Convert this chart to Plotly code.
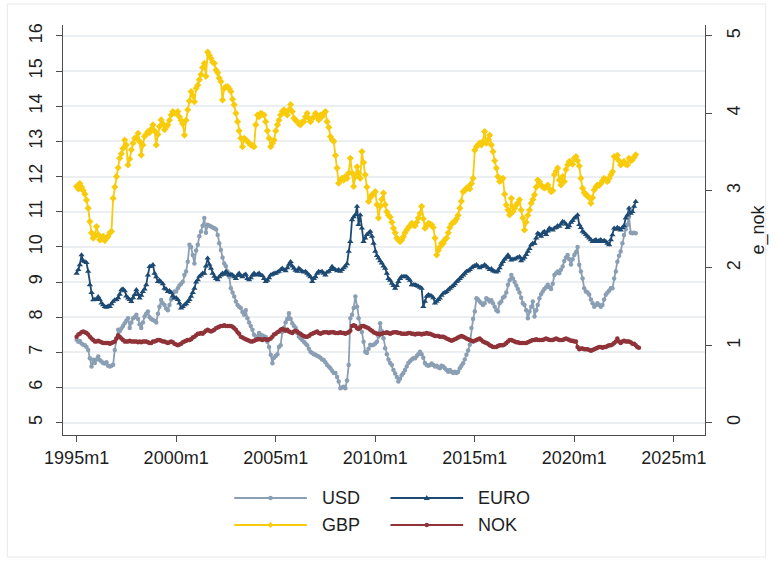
import pandas as pd
import plotly.graph_objects as go

# Monthly exchange rates, 1995m1 onwards (left axis: USD, EURO, GBP; right axis: e_nok)
usd = [
    7.36, 7.30, 7.32, 7.25, 7.22, 7.20, 7.15, 7.07, 6.83, 6.60, 6.79, 6.70,   # 1995
    6.80, 6.88, 6.78, 6.74, 6.70, 6.68, 6.72, 6.62, 6.60, 6.62, 6.65, 7.07,   # 1996
    7.40, 7.64, 7.60, 7.68, 7.75, 7.83, 7.90, 7.97, 7.69, 7.85, 7.97, 8.00,   # 1997
    8.07, 7.95, 7.80, 7.69, 7.85, 8.02, 8.10, 8.16, 8.00, 7.95, 7.92, 7.90,   # 1998
    7.85, 8.10, 8.30, 8.49, 8.40, 8.35, 8.25, 8.20, 8.35, 8.50, 8.60, 8.73,   # 1999
    8.73, 8.82, 8.90, 8.95, 9.01, 9.20, 9.30, 9.58, 10.06, 10.00, 9.77, 9.53, # 2000
    9.90, 10.06, 10.30, 10.44, 10.60, 10.82, 10.40, 10.63, 10.60, 10.58, 10.55, 10.53,  # 2001
    10.50, 10.34, 10.10, 9.91, 9.70, 9.53, 9.45, 9.30, 9.15, 8.82, 8.70, 8.59,  # 2002
    8.45, 8.35, 8.30, 8.26, 8.15, 8.07, 8.20, 7.97, 7.85, 7.75, 7.64, 7.50,   # 2003
    7.36, 7.45, 7.55, 7.50, 7.48, 7.45, 7.44, 7.30, 7.15, 6.93, 6.69, 6.85,   # 2004
    6.90, 6.95, 7.15, 7.20, 7.58, 7.70, 7.85, 7.95, 8.11, 7.95, 7.83, 7.75,   # 2005
    7.70, 7.55, 7.45, 7.40, 7.35, 7.30, 7.25, 7.20, 7.10, 7.02, 6.98, 6.95,   # 2006
    6.93, 6.90, 6.88, 6.85, 6.80, 6.78, 6.72, 6.64, 6.60, 6.55, 6.48, 6.41,   # 2007
    6.41, 6.30, 6.17, 5.98, 6.00, 6.02, 5.98, 6.20, 6.64, 7.97, 8.07, 8.26,   # 2008
    8.59, 8.30, 7.97, 7.75, 7.58, 7.30, 7.02, 6.98, 7.10, 7.22, 7.20, 7.22,   # 2009
    7.25, 7.30, 7.45, 7.83, 7.60, 7.40, 7.12, 6.95, 6.80, 6.70, 6.64, 6.50,   # 2010
    6.40, 6.30, 6.17, 6.25, 6.35, 6.41, 6.50, 6.60, 6.70, 6.75, 6.80, 6.83,   # 2011
    6.83, 6.90, 6.95, 7.02, 6.95, 6.85, 6.70, 6.64, 6.62, 6.64, 6.68, 6.64,   # 2012
    6.60, 6.62, 6.58, 6.55, 6.62, 6.60, 6.55, 6.50, 6.45, 6.50, 6.45, 6.41,   # 2013
    6.45, 6.41, 6.45, 6.55, 6.62, 6.69, 6.80, 6.93, 7.05, 7.22, 7.69, 7.95,   # 2014
    8.16, 8.54, 8.50, 8.45, 8.40, 8.35, 8.40, 8.54, 8.50, 8.45, 8.48, 8.40,   # 2015
    8.30, 8.20, 8.16, 8.40, 8.45, 8.55, 8.59, 8.70, 8.92, 9.05, 9.20, 9.10,   # 2016
    9.00, 8.90, 8.80, 8.70, 8.55, 8.40, 8.35, 8.20, 7.97, 8.16, 8.30, 8.45,   # 2017
    8.02, 8.20, 8.35, 8.54, 8.65, 8.73, 8.80, 8.85, 8.92, 8.85, 8.80, 8.95,   # 2018
    9.20, 9.25, 9.30, 9.25, 9.35, 9.44, 9.60, 9.70, 9.77, 9.65, 9.50, 9.65,   # 2019
    9.77, 9.85, 10.00, 9.49, 9.30, 9.10, 8.82, 8.73, 8.70, 8.64, 8.50, 8.40,  # 2020
    8.30, 8.35, 8.40, 8.35, 8.30, 8.35, 8.50, 8.64, 8.70, 8.75, 8.82, 8.82,   # 2021
    9.10, 9.30, 9.58, 9.75, 9.87, 10.10, 10.34, 10.50, 10.63, 10.86, 10.40, 10.39,  # 2022
    10.40, 10.39,                                                             # 2023
]

euro = [
    9.25, 9.35, 9.49, 9.77, 9.60, 9.58, 9.55, 9.30, 8.92, 8.70, 8.49, 8.50,   # 1995
    8.50, 8.58, 8.50, 8.40, 8.35, 8.30, 8.28, 8.32, 8.30, 8.38, 8.45, 8.49,   # 1996
    8.50, 8.55, 8.65, 8.78, 8.80, 8.75, 8.60, 8.54, 8.50, 8.44, 8.55, 8.64,   # 1997
    8.78, 8.65, 8.54, 8.62, 8.73, 8.80, 8.92, 9.20, 9.44, 9.45, 9.49, 9.25,   # 1998
    9.15, 9.01, 9.05, 9.00, 8.95, 8.82, 8.80, 8.73, 8.75, 8.70, 8.60, 8.54,   # 1999
    8.55, 8.50, 8.40, 8.26, 8.30, 8.35, 8.38, 8.44, 8.50, 8.59, 8.70, 8.82,   # 2000
    9.00, 9.06, 9.16, 9.20, 9.25, 9.25, 9.45, 9.68, 9.50, 9.39, 9.25, 9.16,   # 2001
    9.10, 9.06, 9.15, 9.20, 9.25, 9.22, 9.30, 9.25, 9.20, 9.22, 9.20, 9.15,   # 2002
    9.10, 9.20, 9.25, 9.18, 9.15, 9.20, 9.22, 9.10, 9.06, 9.12, 9.20, 9.25,   # 2003
    9.20, 9.22, 9.25, 9.20, 9.18, 9.10, 9.01, 9.05, 9.12, 9.20, 9.22, 9.25,   # 2004
    9.25, 9.28, 9.30, 9.35, 9.39, 9.35, 9.32, 9.40, 9.50, 9.58, 9.45, 9.39,   # 2005
    9.33, 9.30, 9.39, 9.35, 9.30, 9.28, 9.30, 9.25, 9.20, 9.15, 9.01, 9.10,   # 2006
    9.15, 9.25, 9.30, 9.28, 9.30, 9.25, 9.20, 9.28, 9.30, 9.35, 9.44, 9.38,   # 2007
    9.35, 9.32, 9.35, 9.30, 9.35, 9.40, 9.45, 9.52, 9.87, 10.15, 10.77, 10.85,  # 2008
    10.91, 11.15, 10.63, 10.91, 10.53, 10.15, 10.25, 10.35, 10.39, 10.44, 10.30, 10.10,  # 2009
    9.87, 9.75, 9.68, 9.60, 9.54, 9.45, 9.39, 9.25, 9.10, 9.05, 8.96, 8.90,   # 2010
    8.82, 8.90, 9.01, 9.10, 9.16, 9.15, 9.16, 9.15, 9.10, 9.05, 8.92, 8.92,   # 2011
    8.92, 8.90, 8.88, 8.85, 8.82, 8.30, 8.45, 8.59, 8.64, 8.62, 8.60, 8.55,   # 2012
    8.40, 8.45, 8.50, 8.54, 8.62, 8.68, 8.70, 8.73, 8.78, 8.82, 8.86, 8.90,   # 2013
    8.95, 9.01, 9.05, 9.10, 9.15, 9.20, 9.25, 9.30, 9.32, 9.35, 9.40, 9.44,   # 2014
    9.46, 9.49, 9.45, 9.40, 9.44, 9.45, 9.49, 9.45, 9.40, 9.35, 9.38, 9.32,   # 2015
    9.30, 9.28, 9.32, 9.40, 9.50, 9.58, 9.65, 9.70, 9.77, 9.70, 9.62, 9.65,   # 2016
    9.65, 9.68, 9.70, 9.72, 9.60, 9.65, 9.70, 9.78, 9.87, 9.95, 10.06, 10.10,  # 2017
    10.10, 10.25, 10.39, 10.35, 10.30, 10.40, 10.44, 10.35, 10.45, 10.53, 10.50, 10.48,  # 2018
    10.53, 10.55, 10.60, 10.58, 10.65, 10.72, 10.70, 10.65, 10.55, 10.60, 10.70, 10.75,  # 2019
    10.82, 10.85, 10.91, 10.63, 10.55, 10.44, 10.40, 10.35, 10.30, 10.25, 10.20, 10.15,  # 2020
    10.18, 10.20, 10.15, 10.18, 10.20, 10.15, 10.18, 10.15, 10.10, 10.06, 10.20, 10.34,  # 2021
    10.53, 10.50, 10.55, 10.52, 10.48, 10.55, 10.60, 10.82, 10.90, 11.10, 10.95, 11.00,  # 2022
    11.15, 11.29,                                                             # 2023
]

gbp = [
    11.72, 11.65, 11.80, 11.70, 11.60, 11.50, 11.33, 11.10, 10.72, 10.40, 10.25, 10.30,  # 1995
    10.58, 10.35, 10.20, 10.22, 10.30, 10.18, 10.25, 10.30, 10.40, 10.44, 11.38, 11.70,  # 1996
    12.00, 12.25, 12.52, 12.65, 12.80, 13.04, 12.90, 12.33, 12.50, 12.76, 12.95, 13.09,  # 1997
    13.10, 13.23, 13.00, 12.61, 12.90, 13.14, 13.20, 13.28, 13.25, 13.35, 13.47, 13.30,  # 1998
    12.90, 13.20, 13.42, 13.61, 13.50, 13.33, 13.40, 13.47, 13.60, 13.75, 13.85, 13.80,  # 1999
    13.80, 13.85, 13.70, 13.60, 13.50, 13.18, 13.60, 13.90, 14.15, 14.42, 14.30, 14.13,  # 2000
    14.51, 14.60, 14.75, 14.90, 15.10, 15.22, 14.85, 15.54, 15.45, 15.36, 15.25, 15.22,  # 2001
    15.03, 14.95, 14.80, 14.70, 14.18, 14.51, 14.55, 14.56, 14.50, 14.42, 14.20, 14.04,  # 2002
    13.80, 13.56, 13.30, 13.09, 12.85, 13.09, 13.05, 13.00, 12.95, 12.90, 12.88, 12.85,  # 2003
    13.47, 13.75, 13.70, 13.80, 13.78, 13.75, 13.56, 13.30, 13.09, 12.85, 12.95, 13.04,  # 2004
    13.30, 13.47, 13.60, 13.75, 13.85, 13.90, 13.80, 13.75, 13.90, 14.05, 13.85, 13.66,  # 2005
    13.60, 13.56, 13.50, 13.47, 13.55, 13.56, 13.70, 13.80, 13.65, 13.56, 13.65, 13.70,  # 2006
    13.80, 13.70, 13.61, 13.75, 13.70, 13.80, 13.85, 13.56, 13.40, 13.14, 13.05, 13.00,  # 2007
    12.60, 12.24, 11.81, 11.90, 11.95, 11.90, 12.00, 11.95, 12.10, 12.52, 12.10, 11.72,  # 2008
    12.00, 12.28, 12.10, 11.95, 12.71, 12.40, 12.05, 11.70, 11.29, 11.40, 11.48, 11.50,  # 2009
    11.57, 11.20, 10.82, 11.15, 11.35, 11.53, 11.20, 11.00, 10.90, 10.85, 10.70, 10.53,  # 2010
    10.40, 10.25, 10.20, 10.15, 10.20, 10.29, 10.40, 10.48, 10.55, 10.60, 10.67, 10.62,  # 2011
    10.60, 10.70, 10.82, 10.95, 11.15, 10.80, 10.53, 10.60, 10.67, 10.65, 10.63, 10.55,  # 2012
    10.25, 9.77, 9.90, 10.00, 10.10, 10.10, 10.20, 10.25, 10.40, 10.55, 10.65, 10.70,   # 2013
    10.72, 10.80, 10.90, 11.10, 11.30, 11.57, 11.60, 11.67, 11.70, 11.65, 11.80, 11.95,  # 2014
    12.75, 12.85, 12.90, 12.95, 12.90, 13.00, 13.28, 12.95, 13.05, 13.18, 12.90, 12.71,  # 2015
    12.45, 12.24, 12.00, 11.86, 11.90, 11.95, 11.50, 11.19, 11.05, 10.91, 11.38, 11.00,  # 2016
    11.10, 11.19, 11.25, 11.34, 11.05, 10.82, 10.48, 10.70, 10.90, 11.05, 11.24, 11.35,  # 2017
    11.48, 11.70, 11.90, 11.85, 11.76, 11.70, 11.68, 11.70, 11.76, 11.65, 11.57, 11.60,  # 2018
    12.05, 12.15, 12.24, 11.90, 11.76, 12.00, 11.86, 12.20, 12.33, 12.43, 12.40, 12.35,  # 2019
    12.52, 12.57, 12.45, 12.30, 11.95, 11.67, 11.55, 11.48, 11.45, 11.40, 11.24, 11.40,  # 2020
    11.62, 11.70, 11.76, 11.75, 11.80, 11.88, 11.95, 11.90, 11.86, 11.95, 12.05, 12.14,  # 2021
    12.57, 12.55, 12.60, 12.45, 12.33, 12.38, 12.43, 12.35, 12.33, 12.52, 12.45, 12.47,  # 2022
    12.55, 12.62,                                                                        # 2023
]

e_nok = [
    1.11, 1.14, 1.15, 1.17, 1.18, 1.17, 1.16, 1.14, 1.11, 1.09, 1.07, 1.05,   # 1995
    1.05, 1.06, 1.05, 1.04, 1.03, 1.03, 1.03, 1.03, 1.02, 1.03, 1.04, 1.05,   # 1996
    1.09, 1.13, 1.11, 1.09, 1.07, 1.05, 1.05, 1.05, 1.06, 1.05, 1.05, 1.05,   # 1997
    1.05, 1.04, 1.05, 1.04, 1.05, 1.05, 1.05, 1.04, 1.03, 1.03, 1.05, 1.05,   # 1998
    1.06, 1.07, 1.07, 1.06, 1.05, 1.05, 1.04, 1.03, 1.04, 1.05, 1.04, 1.02,   # 1999
    1.01, 1.00, 1.01, 1.02, 1.04, 1.05, 1.06, 1.07, 1.07, 1.08, 1.10, 1.11,   # 2000
    1.13, 1.15, 1.15, 1.16, 1.15, 1.17, 1.19, 1.20, 1.19, 1.18, 1.19, 1.20,   # 2001
    1.22, 1.23, 1.24, 1.25, 1.25, 1.26, 1.25, 1.25, 1.25, 1.25, 1.24, 1.22,   # 2002
    1.20, 1.17, 1.15, 1.11, 1.10, 1.09, 1.08, 1.07, 1.06, 1.05, 1.05, 1.06,   # 2003
    1.07, 1.08, 1.08, 1.08, 1.07, 1.08, 1.08, 1.07, 1.08, 1.09, 1.11, 1.14,   # 2004
    1.15, 1.17, 1.18, 1.20, 1.21, 1.20, 1.19, 1.20, 1.18, 1.17, 1.16, 1.18,   # 2005
    1.19, 1.18, 1.16, 1.15, 1.13, 1.12, 1.11, 1.11, 1.12, 1.14, 1.15, 1.16,   # 2006
    1.17, 1.18, 1.16, 1.15, 1.16, 1.17, 1.17, 1.17, 1.16, 1.17, 1.17, 1.17,   # 2007
    1.16, 1.16, 1.16, 1.17, 1.16, 1.16, 1.15, 1.16, 1.17, 1.19, 1.25, 1.26,   # 2008
    1.25, 1.22, 1.21, 1.23, 1.25, 1.25, 1.24, 1.23, 1.22, 1.20, 1.19, 1.17,   # 2009
    1.16, 1.15, 1.15, 1.14, 1.15, 1.16, 1.16, 1.17, 1.16, 1.15, 1.16, 1.17,   # 2010
    1.17, 1.17, 1.16, 1.16, 1.15, 1.15, 1.15, 1.15, 1.16, 1.16, 1.15, 1.15,   # 2011
    1.14, 1.15, 1.15, 1.15, 1.14, 1.15, 1.15, 1.16, 1.15, 1.15, 1.14, 1.13,   # 2012
    1.12, 1.12, 1.12, 1.11, 1.11, 1.11, 1.10, 1.09, 1.08, 1.07, 1.06, 1.07,   # 2013
    1.08, 1.09, 1.10, 1.11, 1.12, 1.11, 1.10, 1.09, 1.08, 1.07, 1.06, 1.05,   # 2014
    1.06, 1.07, 1.08, 1.09, 1.07, 1.05, 1.04, 1.03, 1.02, 1.00, 0.99, 0.98,   # 2015
    0.98, 0.98, 0.99, 1.00, 1.00, 1.00, 1.01, 1.03, 1.05, 1.07, 1.07, 1.06,   # 2016
    1.05, 1.04, 1.04, 1.03, 1.03, 1.03, 1.03, 1.03, 1.04, 1.05, 1.06, 1.07,   # 2017
    1.07, 1.08, 1.07, 1.07, 1.07, 1.07, 1.08, 1.09, 1.08, 1.07, 1.07, 1.07,   # 2018
    1.08, 1.09, 1.08, 1.07, 1.07, 1.07, 1.08, 1.09, 1.08, 1.07, 1.06, 1.06,   # 2019
    1.05, 1.05, 0.98, 0.95, 0.96, 0.96, 0.95, 0.95, 0.95, 0.94, 0.93, 0.94,   # 2020
    0.95, 0.96, 0.97, 0.98, 0.98, 0.97, 0.98, 0.98, 0.99, 1.00, 1.00, 1.01,   # 2021
    1.03, 1.05, 1.09, 1.05, 1.03, 1.05, 1.06, 1.05, 1.05, 1.05, 1.04, 1.02,   # 2022
    1.02, 1.00, 0.98, 0.97,                                                   # 2023
]

tick_years = [1995, 2000, 2005, 2010, 2015, 2020, 2025]
tick_labels = [f"{y}m1" for y in tick_years]
left_ticks = list(range(5, 17))
right_ticks = list(range(0, 6))

FONT = "Liberation Sans, Arial, Helvetica, sans-serif"
TXT = "#1e1e1e"
AXIS = "#4d4d4d"
GRID = "#eceff2"

C_USD = "#8b9fb4"
C_EURO = "#1d4a73"
C_GBP = "#f8cb0c"
C_NOK = "#8f3339"


def months(n):
    return pd.date_range("1995-01-01", periods=n, freq="MS")


fig = go.Figure()

series = [
    ("USD", usd, C_USD, "circle", 4.5, "y"),
    ("EURO", euro, C_EURO, "triangle-up", 5.5, "y"),
    ("GBP", gbp, C_GBP, "diamond", 5.5, "y"),
    ("NOK", e_nok, C_NOK, "circle", 4.5, "y2"),
]
for name, vals, col, sym, msize, yax in series:
    fig.add_trace(go.Scatter(
        x=months(len(vals)), y=vals, name=name, yaxis=yax,
        mode="lines+markers",
        line=dict(color=col, width=1.8),
        marker=dict(color=col, symbol=sym, size=msize, line=dict(width=0)),
        showlegend=False,
    ))

# Plot region in pixels: x 63..708, y 25..435
PL, PR, PT, PB = 63, 708, 25, 435


def px(x):
    return (x - PL) / (PR - PL)


def py(y):
    return (PB - y) / (PB - PT)


shapes = []
annotations = []

# faint outer frame
shapes.append(dict(type="rect", xref="paper", yref="paper",
                   x0=px(7), x1=px(769), y0=py(557), y1=py(4),
                   line=dict(color="#e8e8e8", width=1), layer="below"))

# two-column key: USD / GBP on the left, EURO / NOK on the right
legend_items = [
    ("USD", C_USD, "dot", 235, 498),
    ("EURO", C_EURO, "tri", 392, 498),
    ("GBP", C_GBP, "dia", 235, 525),
    ("NOK", C_NOK, "dot", 392, 525),
]
for label, col, mk, x0, yrow in legend_items:
    shapes.append(dict(type="line", xref="paper", yref="paper",
                       x0=px(x0), x1=px(x0 + 73), y0=py(yrow), y1=py(yrow),
                       line=dict(color=col, width=2)))
    xm, ym = px(x0 + 36.5), py(yrow)
    if mk == "dot":
        shapes.append(dict(type="circle", xref="paper", yref="paper",
                           xsizemode="pixel", ysizemode="pixel",
                           xanchor=xm, yanchor=ym, x0=-2.2, x1=2.2, y0=-2.2, y1=2.2,
                           fillcolor=col, line=dict(width=0)))
    elif mk == "tri":
        shapes.append(dict(type="path", xref="paper", yref="paper",
                           xsizemode="pixel", ysizemode="pixel",
                           xanchor=xm, yanchor=ym, path="M-3,-2 L3,-2 L0,3 Z",
                           fillcolor=col, line=dict(width=0)))
    else:
        shapes.append(dict(type="path", xref="paper", yref="paper",
                           xsizemode="pixel", ysizemode="pixel",
                           xanchor=xm, yanchor=ym, path="M0,3 L3,0 L0,-3 L-3,0 Z",
                           fillcolor=col, line=dict(width=0)))
    annotations.append(dict(xref="paper", yref="paper", x=px(x0 + 86), y=py(yrow),
                            xanchor="left", yanchor="middle", showarrow=False,
                            text=label, font=dict(size=18, color=TXT, family=FONT)))

fig.update_layout(
    width=776, height=565,
    margin=dict(l=PL, r=776 - PR, t=PT, b=565 - PB, pad=0),
    paper_bgcolor="white", plot_bgcolor="white",
    font=dict(family=FONT, size=18, color=TXT),
    showlegend=False,
    shapes=shapes,
    annotations=annotations,
    xaxis=dict(
        type="date",
        range=["1994-04-26", "2026-07-26"],
        tickvals=[f"{y}-01-01" for y in tick_years],
        ticktext=tick_labels,
        showgrid=False, zeroline=False,
        showline=True, linecolor=AXIS, linewidth=1,
        ticks="outside", ticklen=6, tickcolor=AXIS, tickwidth=1,
        tickfont=dict(size=18, color=TXT),
    ),
    yaxis=dict(
        range=[4.65, 16.31],
        tickvals=left_ticks,
        tickangle=-90,
        showgrid=True, gridcolor=GRID, gridwidth=1.5, zeroline=False,
        showline=True, linecolor=AXIS, linewidth=1,
        ticks="outside", ticklen=6, tickcolor=AXIS, tickwidth=1,
        ticklabelstandoff=7,
        tickfont=dict(size=18, color=TXT),
    ),
    yaxis2=dict(
        overlaying="y", side="right",
        range=[-0.159, 5.141],
        tickvals=right_ticks,
        tickangle=-90,
        showgrid=False, zeroline=False,
        showline=True, linecolor=AXIS, linewidth=1,
        ticks="outside", ticklen=6, tickcolor=AXIS, tickwidth=1,
        ticklabelstandoff=6,
        tickfont=dict(size=18, color=TXT),
        title=dict(text="e_nok", font=dict(size=18, color=TXT), standoff=8),
    ),
)

fig.write_html("out.html")
